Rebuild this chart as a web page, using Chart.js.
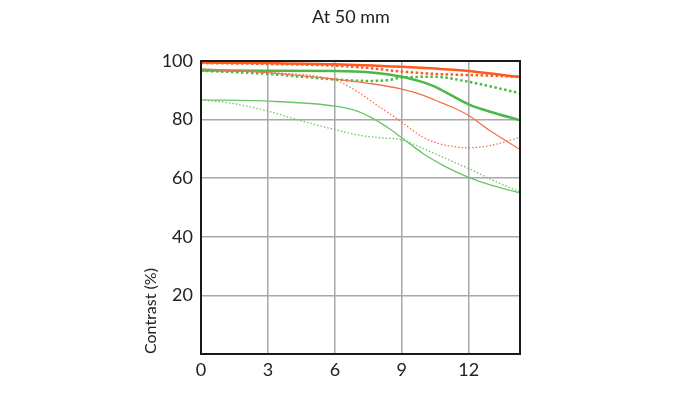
<!DOCTYPE html>
<html>
<head>
<meta charset="utf-8">
<script src="https://cdn.jsdelivr.net/npm/chart.js@4/dist/chart.umd.min.js"></script>
<style>
html,body{margin:0;padding:0;background:#fff;}
#wrap{width:700px;height:393px;}
</style>
</head>
<body>
<div id="wrap"><canvas id="c" width="700" height="393"></canvas></div>
<script>
// Image height from centre (mm)
const chartTitle = 'At 50 mm';

const redThickSolidX = [0, 3, 6, 9, 10.5, 12, 13, 14.3];
const redThickSolid  = [99.5, 99.3, 98.9, 98.0, 97.4, 96.6, 95.7, 94.5];

const redThickDotX = [0, 3, 6, 7.5, 9, 10.5, 12, 13, 14.3];
const redThickDot  = [99.3, 99.0, 98.4, 97.6, 96.4, 95.6, 95.2, 95.0, 94.6];

const greenThickSolidX = [0, 3, 6, 7.5, 8.5, 9, 9.75, 10.5, 11.25, 12, 13, 14.3];
const greenThickSolid  = [96.8, 96.7, 96.6, 96.2, 95.3, 94.6, 93.2, 91.2, 88.2, 85.2, 82.6, 79.8];

const greenThickDotX = [0, 3, 6, 7.5, 8.5, 9, 10.5, 12, 13, 14.3];
const greenThickDot  = [96.7, 95.6, 93.7, 93.2, 93.6, 94.4, 94.6, 92.9, 91.3, 89.0];

const redThinSolidX = [0, 3, 6, 7.5, 9, 10, 10.5, 11.25, 12, 13, 14.3];
const redThinSolid  = [97.3, 96.0, 93.8, 92.4, 90.4, 88.2, 86.6, 84.3, 81.4, 76.0, 69.8];

const redThinDotX = [0, 3, 6, 6.5, 7, 7.5, 8, 8.5, 9, 9.5, 10, 10.5, 11, 12, 13, 14.3];
const redThinDot  = [97.3, 96.2, 93.5, 91.8, 89.6, 87.0, 84.3, 81.8, 79.2, 76.3, 73.8, 72.2, 71.2, 70.4, 71.2, 74.0];

const greenThinSolidX = [0, 3, 6, 7, 7.7, 8.5, 9, 10, 11, 12, 13, 14.3];
const greenThinSolid  = [86.7, 86.3, 84.6, 82.9, 80.4, 76.6, 73.8, 68.2, 63.8, 60.3, 57.6, 55.0];

const greenThinDotX = [0, 1.35, 3, 4.35, 6, 7, 8, 9, 10, 11, 12, 13, 14.3];
const greenThinDot  = [86.7, 85.6, 82.9, 79.9, 76.6, 74.8, 73.8, 73.1, 70.0, 66.6, 63.3, 59.6, 55.3];

const xTicks = [0, 3, 6, 9, 12];
const yTicks = [20, 40, 60, 80, 100];
const xMax = 14.3;

const RED = '#ff5a1e';
const RED_THIN = '#f3714c';
const GREEN = '#4cb848';
const GREEN_THIN = '#6cc468';

function pts(xs, ys) { return xs.map((x, i) => ({x: x, y: ys[i]})); }

function ds(xs, ys, color, width, dash) {
  return {
    data: pts(xs, ys),
    borderColor: color,
    borderWidth: width,
    borderDash: dash || [],
    pointRadius: 0,
    tension: 0.4,
    cubicInterpolationMode: 'monotone',
    fill: false
  };
}

const frame = {
  id: 'frame',
  afterDatasetsDraw(chart) {
    const a = chart.chartArea, ctx = chart.ctx;
    ctx.save();
    ctx.strokeStyle = '#1a1a1a';
    ctx.lineWidth = 2;
    ctx.strokeRect(a.left, a.top, a.right - a.left, a.bottom - a.top);
    ctx.restore();
  }
};

const topTitle = {
  id: 'topTitle',
  afterDraw(chart) {
    const ctx = chart.ctx;
    ctx.save();
    ctx.fillStyle = '#222';
    ctx.font = '18px Lato';
    ctx.textAlign = 'center';
    ctx.textBaseline = 'middle';
    ctx.fillText(chartTitle, 351, 17);
    ctx.restore();
  }
};

new Chart(document.getElementById('c'), {
  type: 'line',
  data: {
    datasets: [
      ds(greenThinDotX, greenThinDot, GREEN_THIN, 1.3, [1.5, 2]),
      ds(greenThinSolidX, greenThinSolid, GREEN_THIN, 1.3),
      ds(redThinDotX, redThinDot, RED_THIN, 1.3, [1.5, 2]),
      ds(redThinSolidX, redThinSolid, RED_THIN, 1.3),
      ds(greenThickDotX, greenThickDot, GREEN, 2.5, [2.5, 2.5]),
      ds(greenThickSolidX, greenThickSolid, GREEN, 2.5),
      ds(redThickDotX, redThickDot, RED, 2.5, [2.5, 2.5]),
      ds(redThickSolidX, redThickSolid, RED, 2.5)
    ]
  },
  options: {
    responsive: false,
    animation: false,
    layout: { padding: { left: 137, right: 180, top: 61, bottom: 0 } },
    plugins: {
      legend: { display: false },
      tooltip: { enabled: false },
      title: { display: false }
    },
    scales: {
      x: {
        type: 'linear',
        min: 0,
        max: xMax,
        afterBuildTicks: (s) => { s.ticks = xTicks.map(v => ({value: v})); },
        afterFit: (s) => { s.height = 39; },
        ticks: {
          color: '#222',
          font: { family: 'Lato', size: 18 },
          padding: 5,
          maxRotation: 0
        },
        grid: { color: '#a8a8a8', lineWidth: 1.5, drawTicks: false },
        border: { display: false }
      },
      y: {
        type: 'linear',
        min: 0,
        max: 100,
        afterBuildTicks: (s) => { s.ticks = yTicks.map(v => ({value: v})); },
        afterFit: (s) => { s.width = 64; },
        ticks: {
          color: '#222',
          font: { family: 'Lato', size: 18 },
          padding: 8
        },
        grid: { color: '#a8a8a8', lineWidth: 1.5, drawTicks: false },
        border: { display: false },
        title: {
          display: true,
          text: 'Contrast (%)',
          align: 'start',
          color: '#222',
          font: { family: 'Lato', size: 16 },
          padding: { top: 4, bottom: 4 }
        }
      }
    }
  },
  plugins: [frame, topTitle]
});
</script>
</body>
</html>
